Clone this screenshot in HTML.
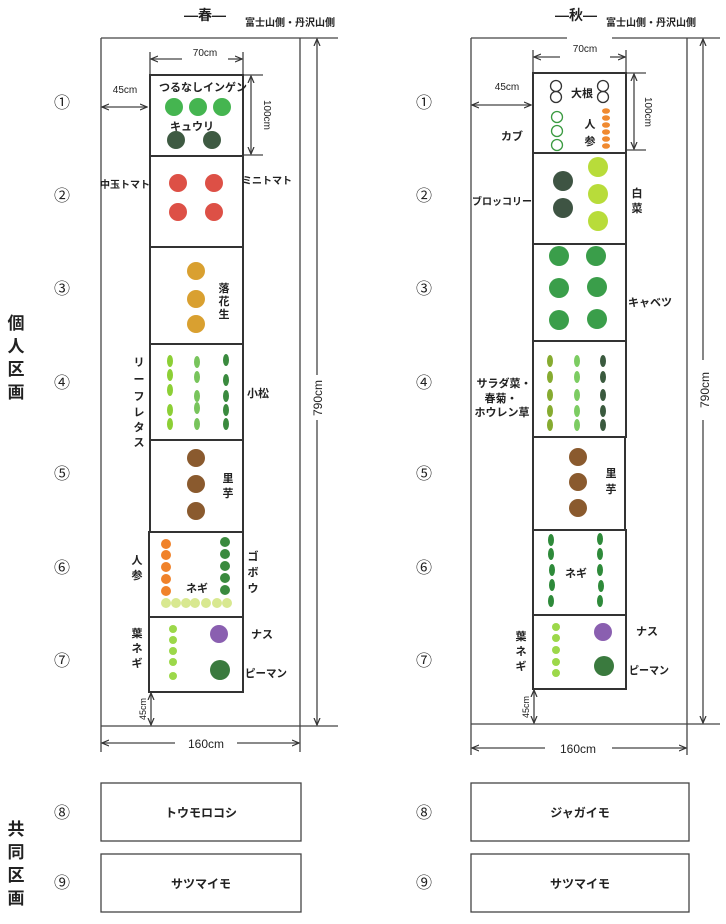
<!DOCTYPE html>
<html><head><meta charset="utf-8"><style>
html,body{margin:0;padding:0;background:#fff;}
svg{display:block;font-family:"Liberation Sans","Noto Sans CJK JP",sans-serif;}
text{fill:#222;font-size:11px;font-weight:bold;}
.n{font-size:16px;font-weight:normal;}
.big{font-size:17px;}
.ln{stroke:#444;stroke-width:1.3;fill:none;}
.bed{stroke:#333;stroke-width:2;fill:none;}
</style></head><body>
<svg width="726" height="924" viewBox="0 0 726 924">
<defs>
<marker id="a" markerWidth="8" markerHeight="8" refX="7" refY="4" orient="auto-start-reverse" markerUnits="userSpaceOnUse"><path d="M0,1 L7,4 L0,7" fill="none" stroke="#333" stroke-width="1.2"/></marker>
</defs>

<g class="n" text-anchor="middle">
<text x="62" y="108" class="n">①</text><text x="62" y="201" class="n">②</text><text x="62" y="294" class="n">③</text><text x="62" y="388" class="n">④</text><text x="62" y="479" class="n">⑤</text><text x="62" y="573" class="n">⑥</text><text x="62" y="666" class="n">⑦</text><text x="62" y="818" class="n">⑧</text><text x="62" y="888" class="n">⑨</text>
<text x="424" y="108" class="n">①</text><text x="424" y="201" class="n">②</text><text x="424" y="294" class="n">③</text><text x="424" y="388" class="n">④</text><text x="424" y="479" class="n">⑤</text><text x="424" y="573" class="n">⑥</text><text x="424" y="666" class="n">⑦</text><text x="424" y="818" class="n">⑧</text><text x="424" y="888" class="n">⑨</text>
</g>
<g text-anchor="middle">
<text x="16" y="329" class="big">個</text><text x="16" y="352" class="big">人</text><text x="16" y="375" class="big">区</text><text x="16" y="398" class="big">画</text>
<text x="16" y="835" class="big">共</text><text x="16" y="858" class="big">同</text><text x="16" y="881" class="big">区</text><text x="16" y="904" class="big">画</text>
</g>

<!-- LEFT -->
<text x="205" y="20" text-anchor="middle" style="font-size:14px">―春―</text>
<text x="290" y="26" text-anchor="middle" style="font-size:10px">富士山側・丹沢山側</text>
<line class="ln" x1="101" y1="38" x2="338" y2="38"/>
<line class="ln" x1="101" y1="38" x2="101" y2="752"/>
<line class="ln" x1="300" y1="38" x2="300" y2="752"/>
<line class="ln" x1="101" y1="726" x2="338" y2="726"/>
<line class="ln" x1="317" y1="39" x2="317" y2="375" marker-start="url(#a)"/>
<line class="ln" x1="317" y1="420" x2="317" y2="725" marker-end="url(#a)"/>
<text transform="translate(322,398) rotate(-90)" text-anchor="middle" style="font-size:12px;font-weight:normal">790cm</text>
<line class="ln" x1="102" y1="743" x2="175" y2="743" marker-start="url(#a)"/>
<line class="ln" x1="237" y1="743" x2="299" y2="743" marker-end="url(#a)"/>
<text x="206" y="748" text-anchor="middle" style="font-size:12px;font-weight:normal">160cm</text>
<line class="ln" x1="150" y1="52" x2="150" y2="75"/><line class="ln" x1="243" y1="52" x2="243" y2="75"/>
<line class="ln" x1="151" y1="59" x2="182" y2="59" marker-start="url(#a)"/><line class="ln" x1="228" y1="59" x2="242" y2="59" marker-end="url(#a)"/>
<text x="205" y="56" text-anchor="middle" style="font-size:10px;font-weight:normal">70cm</text>
<line class="ln" x1="102" y1="107" x2="147" y2="107" marker-start="url(#a)" marker-end="url(#a)"/>
<text x="125" y="93" text-anchor="middle" style="font-size:10px;font-weight:normal">45cm</text>
<line class="ln" x1="243" y1="75" x2="263" y2="75"/><line class="ln" x1="243" y1="155" x2="263" y2="155"/>
<line class="ln" x1="251" y1="76" x2="251" y2="154" marker-start="url(#a)" marker-end="url(#a)"/>
<text transform="translate(264,115) rotate(90)" text-anchor="middle" style="font-size:10px;font-weight:normal">100cm</text>
<line class="ln" x1="151" y1="693" x2="151" y2="725" marker-start="url(#a)" marker-end="url(#a)"/>
<text transform="translate(146,709) rotate(-90)" text-anchor="middle" style="font-size:9px;font-weight:normal">45cm</text>
<rect class="bed" x="150" y="75" width="93" height="81"/>
<rect class="bed" x="150" y="156" width="93" height="91"/>
<rect class="bed" x="150" y="247" width="93" height="97"/>
<rect class="bed" x="150" y="344" width="93" height="96"/>
<rect class="bed" x="150" y="440" width="93" height="92"/>
<rect class="bed" x="149" y="532" width="94" height="85"/>
<rect class="bed" x="149" y="617" width="94" height="75"/>
<text x="203" y="91" text-anchor="middle">つるなしインゲン</text>
<g fill="#45b550"><circle cx="174" cy="107" r="9"/><circle cx="198" cy="107" r="9"/><circle cx="222" cy="107" r="9"/></g>
<text x="192" y="130" text-anchor="middle">キュウリ</text>
<g fill="#3e5a42"><circle cx="176" cy="140" r="9"/><circle cx="212" cy="140" r="9"/></g>
<text x="125" y="188" text-anchor="middle" style="font-size:10px">中玉トマト</text>
<text x="267" y="184" text-anchor="middle" style="font-size:10px">ミニトマト</text>
<g fill="#dd5046"><circle cx="178" cy="183" r="9"/><circle cx="214" cy="183" r="9"/><circle cx="178" cy="212" r="9"/><circle cx="214" cy="212" r="9"/></g>
<g fill="#d9a030"><circle cx="196" cy="271" r="9"/><circle cx="196" cy="299" r="9"/><circle cx="196" cy="324" r="9"/></g>
<text x="224" y="292" text-anchor="middle">落</text><text x="224" y="305" text-anchor="middle">花</text><text x="224" y="318" text-anchor="middle">生</text>
<g fill="#8ccf35"><ellipse cx="170" cy="361" rx="3" ry="6"/><ellipse cx="170" cy="375" rx="3" ry="6"/><ellipse cx="170" cy="390" rx="3" ry="6"/><ellipse cx="170" cy="410" rx="3" ry="6"/><ellipse cx="170" cy="424" rx="3" ry="6"/></g>
<g fill="#78c45c"><ellipse cx="197" cy="362" rx="3" ry="6"/><ellipse cx="197" cy="377" rx="3" ry="6"/><ellipse cx="197" cy="396" rx="3" ry="6"/><ellipse cx="197" cy="408" rx="3" ry="6"/><ellipse cx="197" cy="424" rx="3" ry="6"/></g>
<g fill="#3a8a3e"><ellipse cx="226" cy="360" rx="3" ry="6"/><ellipse cx="226" cy="380" rx="3" ry="6"/><ellipse cx="226" cy="396" rx="3" ry="6"/><ellipse cx="226" cy="410" rx="3" ry="6"/><ellipse cx="226" cy="424" rx="3" ry="6"/></g>
<g text-anchor="middle"><text x="139" y="366">リ</text><text x="139" y="383">ー</text><text x="139" y="400">フ</text><text x="139" y="416">レ</text><text x="139" y="431">タ</text><text x="139" y="446">ス</text></g>
<text x="258" y="397" text-anchor="middle">小松</text>
<g fill="#8a5a2e"><circle cx="196" cy="458" r="9"/><circle cx="196" cy="484" r="9"/><circle cx="196" cy="511" r="9"/></g>
<text x="228" y="482" text-anchor="middle">里</text><text x="228" y="497" text-anchor="middle">芋</text>
<g fill="#f0822a"><circle cx="166" cy="544" r="5"/><circle cx="166" cy="555" r="5"/><circle cx="166" cy="567" r="5"/><circle cx="166" cy="579" r="5"/><circle cx="166" cy="591" r="5"/></g>
<g fill="#3a8a3e"><circle cx="225" cy="542" r="5"/><circle cx="225" cy="554" r="5"/><circle cx="225" cy="566" r="5"/><circle cx="225" cy="578" r="5"/><circle cx="225" cy="590" r="5"/></g>
<g fill="#d8e890"><circle cx="166" cy="603" r="5"/><circle cx="176" cy="603" r="5"/><circle cx="186" cy="603" r="5"/><circle cx="195" cy="603" r="5"/><circle cx="206" cy="603" r="5"/><circle cx="217" cy="603" r="5"/><circle cx="227" cy="603" r="5"/></g>
<text x="197" y="592" text-anchor="middle">ネギ</text>
<text x="137" y="564" text-anchor="middle">人</text><text x="137" y="579" text-anchor="middle">参</text>
<text x="253" y="560" text-anchor="middle">ゴ</text><text x="253" y="576" text-anchor="middle">ボ</text><text x="253" y="592" text-anchor="middle">ウ</text>
<g fill="#9cd84a"><circle cx="173" cy="629" r="4"/><circle cx="173" cy="640" r="4"/><circle cx="173" cy="651" r="4"/><circle cx="173" cy="662" r="4"/><circle cx="173" cy="676" r="4"/></g>
<circle cx="219" cy="634" r="9" fill="#8a5fb0"/>
<circle cx="220" cy="670" r="10" fill="#3a7a3e"/>
<text x="137" y="637" text-anchor="middle">葉</text><text x="137" y="652" text-anchor="middle">ネ</text><text x="137" y="667" text-anchor="middle">ギ</text>
<text x="262" y="638" text-anchor="middle">ナス</text>
<text x="266" y="677" text-anchor="middle" textLength="42" lengthAdjust="spacingAndGlyphs">ピーマン</text>
<rect x="101" y="783" width="200" height="58" fill="none" stroke="#444" stroke-width="1.3"/>
<rect x="101" y="854" width="200" height="58" fill="none" stroke="#444" stroke-width="1.3"/>
<text x="201" y="817" text-anchor="middle" style="font-size:12px">トウモロコシ</text>
<text x="201" y="888" text-anchor="middle" style="font-size:12px">サツマイモ</text>

<!-- RIGHT -->
<text x="576" y="20" text-anchor="middle" style="font-size:14px">―秋―</text>
<text x="651" y="26" text-anchor="middle" style="font-size:10px">富士山側・丹沢山側</text>
<line class="ln" x1="471" y1="38" x2="567" y2="38"/>
<line class="ln" x1="612" y1="38" x2="720" y2="38"/>
<line class="ln" x1="471" y1="38" x2="471" y2="755"/>
<line class="ln" x1="687" y1="38" x2="687" y2="755"/>
<line class="ln" x1="471" y1="724" x2="720" y2="724"/>
<line class="ln" x1="703" y1="39" x2="703" y2="360" marker-start="url(#a)"/>
<line class="ln" x1="703" y1="420" x2="703" y2="723" marker-end="url(#a)"/>
<text transform="translate(709,390) rotate(-90)" text-anchor="middle" style="font-size:12px;font-weight:normal">790cm</text>
<line class="ln" x1="472" y1="748" x2="545" y2="748" marker-start="url(#a)"/>
<line class="ln" x1="612" y1="748" x2="686" y2="748" marker-end="url(#a)"/>
<text x="578" y="753" text-anchor="middle" style="font-size:12px;font-weight:normal">160cm</text>
<line class="ln" x1="533" y1="50" x2="533" y2="73"/><line class="ln" x1="626" y1="50" x2="626" y2="73"/>
<line class="ln" x1="534" y1="57" x2="560" y2="57" marker-start="url(#a)"/><line class="ln" x1="610" y1="57" x2="625" y2="57" marker-end="url(#a)"/>
<text x="585" y="52" text-anchor="middle" style="font-size:10px;font-weight:normal">70cm</text>
<line class="ln" x1="472" y1="105" x2="531" y2="105" marker-start="url(#a)" marker-end="url(#a)"/>
<text x="507" y="90" text-anchor="middle" style="font-size:10px;font-weight:normal">45cm</text>
<line class="ln" x1="626" y1="73" x2="646" y2="73"/><line class="ln" x1="626" y1="150" x2="646" y2="150"/>
<line class="ln" x1="634" y1="74" x2="634" y2="149" marker-start="url(#a)" marker-end="url(#a)"/>
<text transform="translate(645,112) rotate(90)" text-anchor="middle" style="font-size:10px;font-weight:normal">100cm</text>
<line class="ln" x1="534" y1="690" x2="534" y2="723" marker-start="url(#a)" marker-end="url(#a)"/>
<text transform="translate(529,707) rotate(-90)" text-anchor="middle" style="font-size:9px;font-weight:normal">45cm</text>
<rect class="bed" x="533" y="73" width="93" height="80"/>
<rect class="bed" x="533" y="153" width="93" height="91"/>
<rect class="bed" x="533" y="244" width="93" height="97"/>
<rect class="bed" x="533" y="341" width="93" height="96"/>
<rect class="bed" x="533" y="437" width="92" height="93"/>
<rect class="bed" x="533" y="530" width="93" height="85"/>
<rect class="bed" x="533" y="615" width="93" height="74"/>
<g fill="none" stroke="#333" stroke-width="1.3"><circle cx="556" cy="86" r="5.5"/><circle cx="556" cy="97" r="5.5"/><circle cx="603" cy="86" r="5.5"/><circle cx="603" cy="97" r="5.5"/></g>
<text x="582" y="97" text-anchor="middle">大根</text>
<g fill="none" stroke="#3a9a40" stroke-width="1.3"><circle cx="557" cy="117" r="5.5"/><circle cx="557" cy="131" r="5.5"/><circle cx="557" cy="145" r="5.5"/></g>
<g fill="#f08a30"><ellipse cx="606" cy="111" rx="4" ry="2.8"/><ellipse cx="606" cy="118" rx="4" ry="2.8"/><ellipse cx="606" cy="125" rx="4" ry="2.8"/><ellipse cx="606" cy="132" rx="4" ry="2.8"/><ellipse cx="606" cy="139" rx="4" ry="2.8"/><ellipse cx="606" cy="146" rx="4" ry="2.8"/></g>
<text x="590" y="128" text-anchor="middle">人</text><text x="590" y="145" text-anchor="middle">参</text>
<text x="512" y="140" text-anchor="middle">カブ</text>
<g fill="#3e5443"><circle cx="563" cy="181" r="10"/><circle cx="563" cy="208" r="10"/></g>
<g fill="#b8dc3a"><circle cx="598" cy="167" r="10"/><circle cx="598" cy="194" r="10"/><circle cx="598" cy="221" r="10"/></g>
<text x="502" y="205" text-anchor="middle" style="font-size:10px">ブロッコリー</text>
<text x="637" y="197" text-anchor="middle">白</text><text x="637" y="212" text-anchor="middle">菜</text>
<g fill="#3a9e4a"><circle cx="559" cy="256" r="10"/><circle cx="596" cy="256" r="10"/><circle cx="559" cy="288" r="10"/><circle cx="597" cy="287" r="10"/><circle cx="559" cy="320" r="10"/><circle cx="597" cy="319" r="10"/></g>
<text x="650" y="306" text-anchor="middle">キャベツ</text>
<g fill="#86ab30"><ellipse cx="550" cy="361" rx="3" ry="6"/><ellipse cx="550" cy="377" rx="3" ry="6"/><ellipse cx="550" cy="395" rx="3" ry="6"/><ellipse cx="550" cy="411" rx="3" ry="6"/><ellipse cx="550" cy="425" rx="3" ry="6"/></g>
<g fill="#7ccc62"><ellipse cx="577" cy="361" rx="3" ry="6"/><ellipse cx="577" cy="377" rx="3" ry="6"/><ellipse cx="577" cy="395" rx="3" ry="6"/><ellipse cx="577" cy="411" rx="3" ry="6"/><ellipse cx="577" cy="425" rx="3" ry="6"/></g>
<g fill="#3a5a3e"><ellipse cx="603" cy="361" rx="3" ry="6"/><ellipse cx="603" cy="377" rx="3" ry="6"/><ellipse cx="603" cy="395" rx="3" ry="6"/><ellipse cx="603" cy="411" rx="3" ry="6"/><ellipse cx="603" cy="425" rx="3" ry="6"/></g>
<g text-anchor="middle"><text x="504" y="387">サラダ菜・</text><text x="501" y="402">春菊・</text><text x="502" y="416">ホウレン草</text></g>
<g fill="#8a5a2e"><circle cx="578" cy="457" r="9"/><circle cx="578" cy="482" r="9"/><circle cx="578" cy="508" r="9"/></g>
<text x="611" y="477" text-anchor="middle">里</text><text x="611" y="493" text-anchor="middle">芋</text>
<g fill="#2e8a3a"><ellipse cx="551" cy="540" rx="3" ry="6"/><ellipse cx="551" cy="554" rx="3" ry="6"/><ellipse cx="552" cy="570" rx="3" ry="6"/><ellipse cx="552" cy="585" rx="3" ry="6"/><ellipse cx="551" cy="601" rx="3" ry="6"/>
<ellipse cx="600" cy="539" rx="3" ry="6"/><ellipse cx="600" cy="554" rx="3" ry="6"/><ellipse cx="600" cy="570" rx="3" ry="6"/><ellipse cx="601" cy="586" rx="3" ry="6"/><ellipse cx="600" cy="601" rx="3" ry="6"/></g>
<text x="576" y="577" text-anchor="middle">ネギ</text>
<g fill="#9cd84a"><circle cx="556" cy="627" r="4"/><circle cx="556" cy="638" r="4"/><circle cx="556" cy="650" r="4"/><circle cx="556" cy="662" r="4"/><circle cx="556" cy="673" r="4"/></g>
<circle cx="603" cy="632" r="9" fill="#8a5fb0"/>
<circle cx="604" cy="666" r="10" fill="#3a7a3e"/>
<text x="521" y="640" text-anchor="middle">葉</text><text x="521" y="655" text-anchor="middle">ネ</text><text x="521" y="670" text-anchor="middle">ギ</text>
<text x="647" y="635" text-anchor="middle">ナス</text>
<text x="649" y="674" text-anchor="middle" textLength="40" lengthAdjust="spacingAndGlyphs">ピーマン</text>
<rect x="471" y="783" width="218" height="58" fill="none" stroke="#444" stroke-width="1.3"/>
<rect x="471" y="854" width="218" height="58" fill="none" stroke="#444" stroke-width="1.3"/>
<text x="580" y="817" text-anchor="middle" style="font-size:12px">ジャガイモ</text>
<text x="580" y="888" text-anchor="middle" style="font-size:12px">サツマイモ</text>
</svg>
</body></html>
